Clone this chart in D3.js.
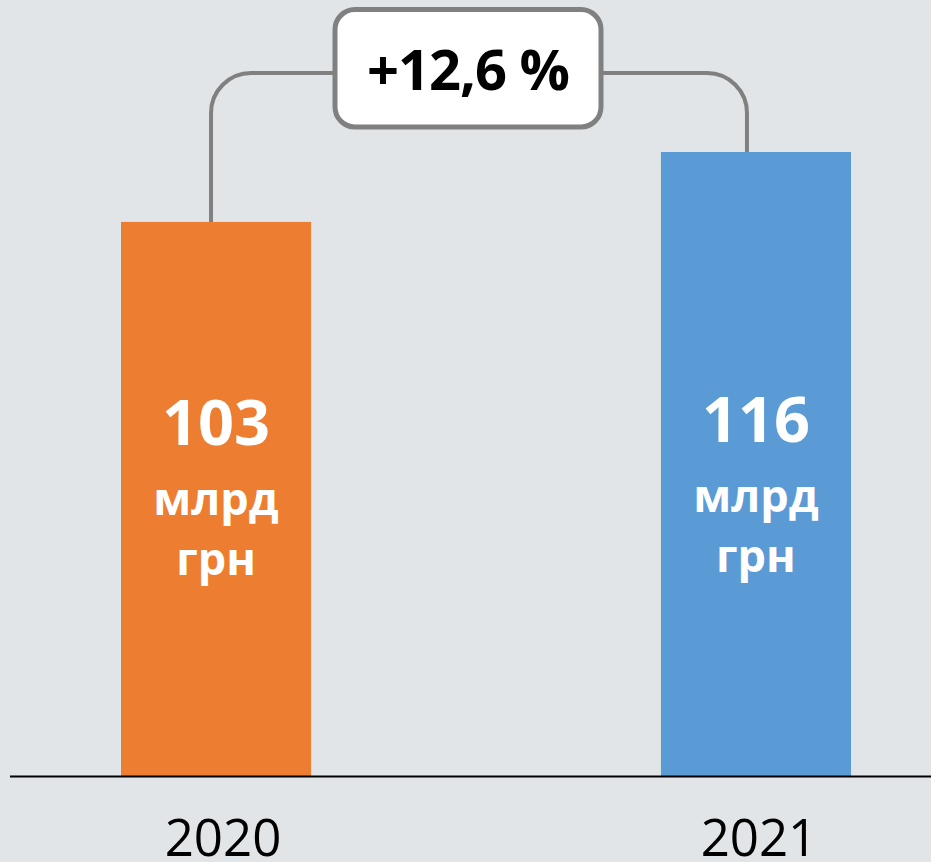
<!DOCTYPE html>
<html>
<head>
<meta charset="utf-8">
<script src="https://cdn.jsdelivr.net/npm/d3@7"></script>
<style>
  html, body { margin: 0; padding: 0; background: #e1e5e8; }
  svg { display: block; font-family: "Open Sans", sans-serif; }
</style>
</head>
<body>
<svg width="931" height="862"></svg>
<script>
    var years = ["2020", "2021"];
    var values = [103, 116];
    var colors = ["#ed7d31", "#5b9bd5"];
    var unitLines = ["млрд", "грн"];
    var growthLabel = "+12,6 %";

    var svg = d3.select("svg"),
        width = +svg.attr("width"),
        height = +svg.attr("height");

    var baseY = 776;

    var x = d3.scaleBand()
        .domain(years)
        .range([121, 851])
        .paddingInner(0.648)
        .paddingOuter(0);

    var y = d3.scaleLinear()
        .domain([0, d3.max(values)])
        .range([baseY, 152]);

    var data = years.map(function (yr, i) {
        return { year: yr, value: values[i], color: colors[i] };
    });

    // bars
    svg.append("g")
        .selectAll("rect")
        .data(data)
        .enter()
            .append("rect")
            .attr("x", function (d) { return x(d.year); })
            .attr("y", function (d) { return y(d.value); })
            .attr("width", x.bandwidth())
            .attr("height", function (d) { return baseY - y(d.value); })
            .attr("fill", function (d) { return d.color; });

    // baseline
    svg.append("line")
        .attr("x1", 10).attr("x2", width)
        .attr("y1", baseY + 0.5).attr("y2", baseY + 0.5)
        .attr("stroke", "#000")
        .attr("stroke-width", 2);

    // year labels
    svg.append("g")
        .selectAll("text")
        .data(data)
        .enter()
            .append("text")
            .attr("x", function (d, i) { return x(d.year) + x.bandwidth() / 2 + (i ? 3 : 7); })
            .attr("y", 856)
            .attr("text-anchor", "middle")
            .attr("font-size", 51)
            .attr("fill", "#000")
            .text(function (d) { return d.year; });

    // value labels inside bars
    var labels = svg.append("g")
        .selectAll("g")
        .data(data)
        .enter()
            .append("g")
            .attr("transform", function (d, i) {
                return "translate(" + (x(d.year) + x.bandwidth() / 2) + "," + (i ? -3 : 0) + ")";
            });

    labels.append("text")
        .attr("y", 445)
        .attr("text-anchor", "middle")
        .attr("font-size", 63)
        .attr("font-weight", 700)
        .attr("fill", "#fff")
        .text(function (d) { return d.value; });

    unitLines.forEach(function (t, j) {
        labels.append("text")
            .attr("y", 515 + j * 60)
            .attr("text-anchor", "middle")
            .attr("font-size", 45)
            .attr("font-weight", 700)
            .attr("fill", "#fff")
            .text(t);
    });

    // connector between bars
    var boxL = 335, boxR = 601, boxT = 9.5, boxB = 127, lineY = 73, r = 40;
    var x1 = x(years[0]) + x.bandwidth() / 2 - 5,
        x2 = x(years[1]) + x.bandwidth() / 2 - 9;

    var p = d3.path();
    p.moveTo(x1, y(values[0]));
    p.lineTo(x1, lineY + r);
    p.arcTo(x1, lineY, x1 + r, lineY, r);
    p.lineTo(boxL, lineY);
    p.moveTo(boxR, lineY);
    p.lineTo(x2 - r, lineY);
    p.arcTo(x2, lineY, x2, lineY + r, r);
    p.lineTo(x2, y(values[1]));

    svg.append("path")
        .attr("d", p.toString())
        .attr("fill", "none")
        .attr("stroke", "#808080")
        .attr("stroke-width", 4);

    svg.append("rect")
        .attr("x", boxL).attr("y", boxT)
        .attr("width", boxR - boxL).attr("height", boxB - boxT)
        .attr("rx", 20).attr("ry", 20)
        .attr("fill", "#fff")
        .attr("stroke", "#808080")
        .attr("stroke-width", 5);

    svg.append("text")
        .attr("x", (boxL + boxR) / 2)
        .attr("y", 90)
        .attr("text-anchor", "middle")
        .attr("font-size", 56)
        .attr("font-weight", 700)
        .attr("letter-spacing", -1)
        .attr("fill", "#000")
        .text(growthLabel);
</script>
</body>
</html>
